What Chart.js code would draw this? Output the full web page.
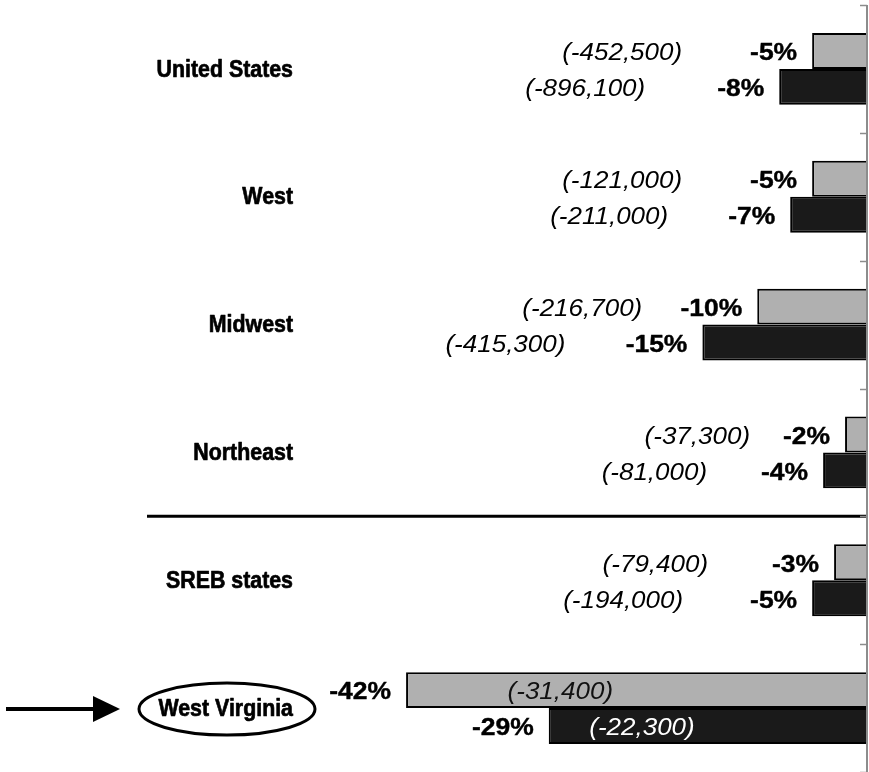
<!DOCTYPE html>
<html>
<head>
<meta charset="utf-8">
<script src="https://cdn.jsdelivr.net/npm/chart.js@4/dist/chart.umd.min.js"></script>
<style>
  html, body { margin: 0; padding: 0; background: #ffffff; overflow: hidden; }
  canvas { display: block; }
</style>
</head>
<body>
<canvas id="c" width="869" height="772"></canvas>
<script>
// ---- data ----
const categories = ["United States", "West", "Midwest", "Northeast", "SREB states", "West Virginia"];
const pctSeriesA = [-5, -5, -10, -2, -3, -42];      // gray bars (percent change)
const pctSeriesB = [-8, -7, -15, -4, -5, -29];      // black bars (percent change)
const countSeriesA = ["(-452,500)", "(-121,000)", "(-216,700)", "(-37,300)", "(-79,400)", "(-31,400)"];
const countSeriesB = ["(-896,100)", "(-211,000)", "(-415,300)", "(-81,000)", "(-194,000)", "(-22,300)"];

// ---- layout (label placement, px from bar end; negative = inside the bar) ----
const countGapA = [130, 130, 115, 95, 126, -207];
const countGapB = [134, 122, 137, 116, 129, -146];
const highlightIndex = 5;
const separatorAfter = 3;

const FONT = "'Liberation Sans', Arial, Helvetica, sans-serif";

function stretchText(ctx, text, x, y, align, font, sx, color, strokeW) {
  ctx.save();
  ctx.translate(x, y);
  ctx.scale(sx, 1);
  ctx.font = font;
  ctx.fillStyle = color;
  ctx.textAlign = align;
  ctx.textBaseline = 'middle';
  ctx.fillText(text, 0, 0);
  if (strokeW) {
    ctx.strokeStyle = color;
    ctx.lineWidth = strokeW;
    ctx.lineJoin = 'round';
    ctx.strokeText(text, 0, 0);
  }
  ctx.restore();
}

const annotations = {
  id: 'annotations',
  afterDatasetsDraw(chart) {
    const ctx = chart.ctx;
    const area = chart.chartArea;
    const xs = chart.scales.x;
    const ys = chart.scales.y;
    const x0 = xs.getPixelForValue(0);
    const n = categories.length;
    const band = area.height / n;

    // separator line between regions and SREB group
    ctx.save();
    ctx.strokeStyle = '#000000';
    ctx.lineWidth = 3;
    const sy = area.top + (separatorAfter + 1) * band;
    ctx.beginPath();
    ctx.moveTo(147, sy);
    ctx.lineTo(x0, sy);
    ctx.stroke();
    ctx.restore();

    // axis line and tick marks
    ctx.save();
    ctx.strokeStyle = '#8c8c8c';
    ctx.lineWidth = 2;
    ctx.beginPath();
    ctx.moveTo(x0, area.top);
    ctx.lineTo(x0, area.bottom);
    ctx.stroke();
    ctx.lineWidth = 1.5;
    for (let i = 0; i <= n; i++) {
      const ty = Math.round(area.top + i * band) + 0.5;
      ctx.beginPath();
      ctx.moveTo(x0 - 7, ty);
      ctx.lineTo(x0, ty);
      ctx.stroke();
    }
    ctx.restore();

    // category labels
    categories.forEach((c, i) => {
      const cy = ys.getPixelForValue(i);
      stretchText(ctx, c, 293, cy + 1, 'right', 'bold 24px ' + FONT, 0.89, '#000000', 0.7);
    });

    // highlight ellipse + arrow
    const hy = ys.getPixelForValue(highlightIndex);
    ctx.save();
    ctx.strokeStyle = '#000000';
    ctx.lineWidth = 3;
    ctx.beginPath();
    ctx.ellipse(227, hy + 1, 88, 26, 0, 0, Math.PI * 2);
    ctx.stroke();
    ctx.lineWidth = 4;
    ctx.beginPath();
    ctx.moveTo(6, hy + 1);
    ctx.lineTo(96, hy + 1);
    ctx.stroke();
    ctx.fillStyle = '#000000';
    ctx.beginPath();
    ctx.moveTo(93, hy + 1 - 13);
    ctx.lineTo(120, hy + 1);
    ctx.lineTo(93, hy + 1 + 13);
    ctx.closePath();
    ctx.fill();
    ctx.restore();

    // value labels
    const series = [
      { pct: pctSeriesA, cnt: countSeriesA, gap: countGapA, inside: '#111111' },
      { pct: pctSeriesB, cnt: countSeriesB, gap: countGapB, inside: '#ffffff' }
    ];
    series.forEach((s, di) => {
      const meta = chart.getDatasetMeta(di);
      meta.data.forEach((el, i) => {
        const bx = el.x;
        const by = el.y + 3;
        stretchText(ctx, s.pct[i] + '%', bx - 15, by, 'right', 'bold 23px ' + FONT, 1.15, '#000000', 0.4);
        const g = s.gap[i];
        stretchText(ctx, s.cnt[i], bx - g, by, 'right', 'italic 23px ' + FONT, 1.13, g < 0 ? s.inside : '#000000');
      });
    });
  }
};

new Chart(document.getElementById('c'), {
  type: 'bar',
  data: {
    labels: categories,
    datasets: [
      {
        data: pctSeriesA,
        backgroundColor: '#b0b0b0',
        borderColor: '#000000',
        borderWidth: 2,
        categoryPercentage: 0.5625,
        barPercentage: 1.0
      },
      {
        data: pctSeriesB,
        backgroundColor: '#1a1a1a',
        borderColor: '#000000',
        borderWidth: 2,
        categoryPercentage: 0.5625,
        barPercentage: 1.0
      }
    ]
  },
  options: {
    indexAxis: 'y',
    responsive: false,
    animation: false,
    devicePixelRatio: 1,
    layout: { padding: { top: 5, right: 2, left: 0, bottom: 0 } },
    plugins: { legend: { display: false }, tooltip: { enabled: false } },
    scales: {
      x: { display: false, min: -79, max: 0 },
      y: { display: false }
    }
  },
  plugins: [annotations]
});
</script>
</body>
</html>
